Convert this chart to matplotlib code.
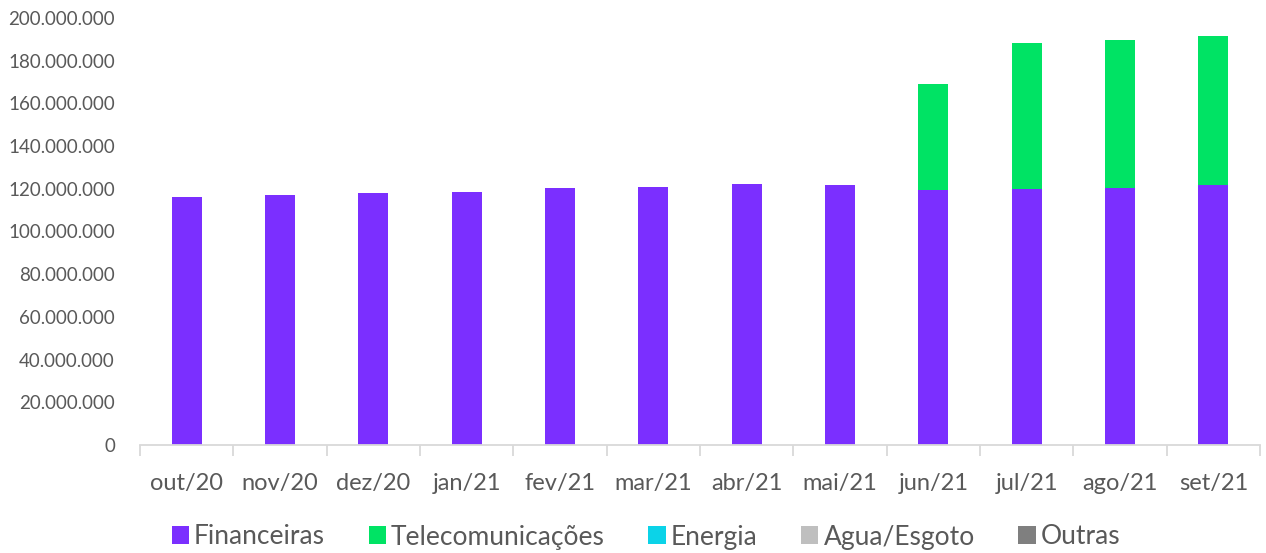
import matplotlib
matplotlib.use("Agg")
import matplotlib.pyplot as plt
import numpy as np
from matplotlib.ticker import FuncFormatter, FixedLocator, NullFormatter
from matplotlib.patches import Patch

categories = ["out/20", "nov/20", "dez/20", "jan/21", "fev/21", "mar/21",
              "abr/21", "mai/21", "jun/21", "jul/21", "ago/21", "set/21"]
financeiras = [116.3e6, 117.0e6, 117.9e6, 118.7e6, 120.4e6, 121.0e6,
               122.2e6, 121.7e6, 119.5e6, 120.0e6, 120.6e6, 121.8e6]
telecom = [0, 0, 0, 0, 0, 0, 0, 0, 49.6e6, 68.3e6, 69.1e6, 69.8e6]
energia = [0] * 12
agua = [0] * 12
outras = [0] * 12

series_names = ["Financeiras", "Telecomunicações", "Energia", "Agua/Esgoto", "Outras"]
series_vals = [financeiras, telecom, energia, agua, outras]
colors = ["#7B2FFF", "#00E364", "#0BD3E8", "#BFBFBF", "#7F7F7F"]

plt.rcParams['font.family'] = ['Lato', 'DejaVu Sans']
txt = "#595959"

fig = plt.figure(figsize=(12.66, 5.53), dpi=100)
ax = fig.add_axes([140/1266, (553-445)/553, (1260-140)/1266, (445-18)/553])

x = np.arange(len(categories))
bottom = np.zeros(len(categories))
for name, vals, c in zip(series_names, series_vals, colors):
    v = np.array(vals, dtype=float)
    ax.bar(x, v, bottom=bottom, width=0.32, color=c, label=name, zorder=2)
    bottom += v

ax.set_xlim(-0.5, len(categories) - 0.5)
ax.set_ylim(0, 200e6)
ax.set_yticks(np.arange(0, 200e6 + 1, 20e6))
ax.yaxis.set_major_formatter(FuncFormatter(lambda v, p: f"{int(round(v)):,}".replace(",", ".")))
ax.tick_params(axis='y', length=0, labelsize=13.5, labelcolor=txt, pad=18)

ax.xaxis.set_major_locator(FixedLocator(np.arange(-0.5, len(categories), 1.0)))
ax.xaxis.set_major_formatter(NullFormatter())
ax.xaxis.set_minor_locator(FixedLocator(x))
ax.set_xticklabels(categories, minor=True)
ax.tick_params(axis='x', which='major', length=8, color="#D9D9D9", width=1.3)
ax.tick_params(axis='x', which='minor', length=0, labelsize=17, labelcolor=txt, pad=20)

for s in ["top", "right", "left"]:
    ax.spines[s].set_visible(False)
ax.spines["bottom"].set_color("#D9D9D9")
ax.spines["bottom"].set_linewidth(1.3)

handles = [Patch(facecolor=c, edgecolor='none') for c in colors]
leg = fig.legend(handles, series_names, loc='center', bbox_to_anchor=(646/1266, 1 - 537/553),
                 ncol=5, frameon=False, fontsize=19, handlelength=0.65, handleheight=0.65,
                 handletextpad=0.2, columnspacing=1.65)
for t in leg.get_texts():
    t.set_color(txt)

fig.savefig("out.png", dpi=100)
